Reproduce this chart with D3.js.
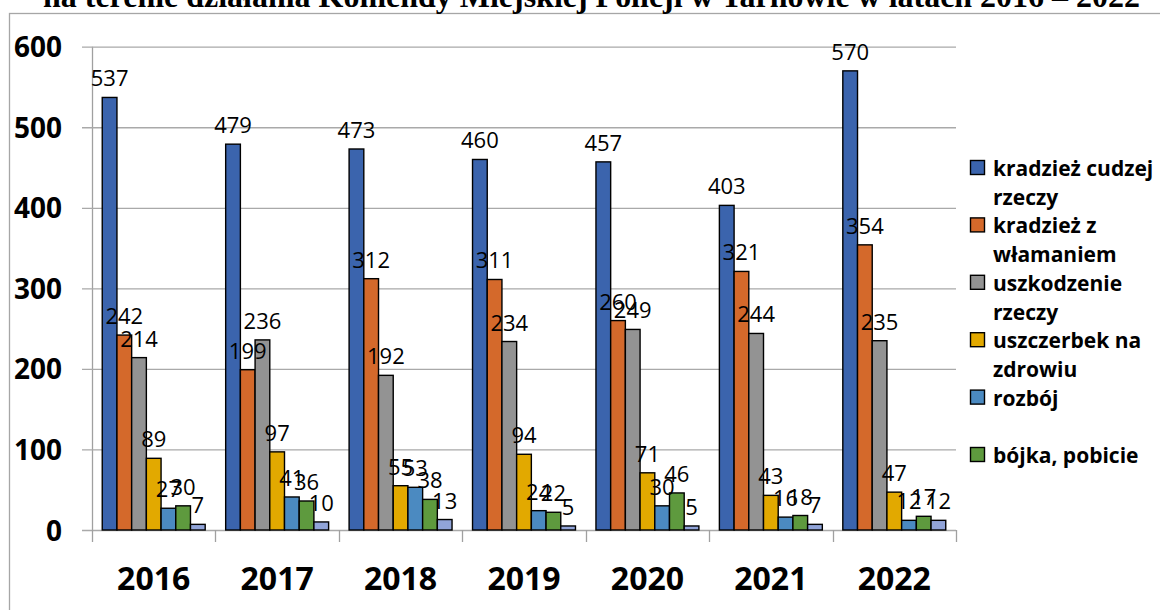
<!DOCTYPE html>
<html>
<head>
<meta charset="utf-8">
<script src="https://cdn.jsdelivr.net/npm/d3@7"></script>
<style>
  html, body { margin: 0; padding: 0; background: #fff; }
  svg { display: block; }
</style>
</head>
<body>
<svg id="chart" width="1160" height="610"></svg>
<script>
// ---------- data ----------
const titleText = "na terenie działania Komendy Miejskiej Policji w Tarnowie w latach 2016 – 2022";
const years = ["2016", "2017", "2018", "2019", "2020", "2021", "2022"];
const seriesNames = [
  "kradzież cudzej rzeczy",
  "kradzież z włamaniem",
  "uszkodzenie rzeczy",
  "uszczerbek na zdrowiu",
  "rozbój",
  "bójka, pobicie",
  "inne"
];
const kradziezCudzejRzeczy = [537, 479, 473, 460, 457, 403, 570];
const kradziezZWlamaniem   = [242, 199, 312, 311, 260, 321, 354];
const uszkodzenieRzeczy    = [214, 236, 192, 234, 249, 244, 235];
const uszczerbekNaZdrowiu  = [89, 97, 55, 94, 71, 43, 47];
const rozboj               = [27, 41, 53, 24, 30, 16, 12];
const bojkaPobicie         = [30, 36, 38, 22, 46, 18, 17];
const inne                 = [7, 10, 13, 5, 5, 7, 12];
const yTicks = [0, 100, 200, 300, 400, 500, 600];
const colors = ["#3B64AD", "#D4692B", "#939393", "#E2A900", "#4B8AC1", "#5E9A3E", "#91A4D9"];
const legendVisibleCount = 6; // the 7th legend entry is cut off in the original

const seriesValues = [kradziezCudzejRzeczy, kradziezZWlamaniem, uszkodzenieRzeczy,
  uszczerbekNaZdrowiu, rozboj, bojkaPobicie, inne];

// ---------- layout ----------
const svg = d3.select("#chart");
const plot = { left: 92, right: 956, top: 46.7, bottom: 530 };

// outer chart border
svg.append("rect")
  .attr("x", 9.5).attr("y", 13.5)
  .attr("width", 1200).attr("height", 700)
  .attr("fill", "none").attr("stroke", "#a6a6a6").attr("stroke-width", 1.3);

// title (mostly clipped at top)
const title = svg.append("text")
  .attr("x", 43).attr("y", 7)
  .attr("font-family", "'Liberation Serif', 'Times New Roman', serif")
  .attr("font-weight", "bold")
  .attr("font-size", 100)
  .attr("fill", "#000")
  .text(titleText);
const tw = title.node().getComputedTextLength();
title.attr("font-size", 100 * 1097 / tw);

const x0 = d3.scaleBand().domain(years).range([plot.left, plot.right]).padding(0);
const x1 = d3.scaleBand().domain(d3.range(seriesNames.length))
  .range([x0.bandwidth() * 0.083, x0.bandwidth() * 0.917]).padding(0);
const y = d3.scaleLinear().domain([0, 600]).range([plot.bottom, plot.top]);

// gridlines + y axis
const yAxis = d3.axisLeft(y).tickValues(yTicks)
  .tickSize(-(plot.right - plot.left)).tickPadding(30).tickFormat(d3.format("d"));
const gy = svg.append("g").attr("transform", `translate(${plot.left},0)`).call(yAxis);
gy.select(".domain").attr("stroke", "#a0a0a0").attr("stroke-width", 1.3)
  .attr("d", `M0.5,${plot.top}V${plot.bottom}`);
gy.selectAll(".tick line").attr("stroke", "#a9a9a9").attr("stroke-width", 1.3)
  .attr("x1", -10);
gy.selectAll(".tick text")
  .attr("font-family", "'Open Sans', sans-serif")
  .attr("font-weight", "bold").attr("font-size", 28).attr("fill", "#000")
  .attr("x", -30).attr("dy", "0.36em");

// x axis
const xAxis = d3.axisBottom(x0).tickSize(0).tickPadding(0);
const gx = svg.append("g").attr("transform", `translate(0,${plot.bottom})`).call(xAxis);
gx.select(".domain").remove();
gx.selectAll(".tick text")
  .attr("font-family", "'Open Sans', sans-serif")
  .attr("font-weight", "bold").attr("font-size", 32).attr("fill", "#000")
  .attr("y", 60).attr("dy", 0);
// category separators
const sepPositions = years.map(d => x0(d)).concat([plot.right]);
svg.append("g").selectAll("line").data(sepPositions).join("line")
  .attr("x1", d => Math.round(d) + 0.5).attr("x2", d => Math.round(d) + 0.5)
  .attr("y1", plot.bottom).attr("y2", plot.bottom + 12)
  .attr("stroke", "#a0a0a0").attr("stroke-width", 1.3);

// bars
const groups = svg.append("g").selectAll("g").data(years).join("g")
  .attr("transform", d => `translate(${x0(d)},0)`);
groups.selectAll("rect")
  .data((yr, i) => seriesValues.map((arr, s) => ({ s, v: arr[i] })))
  .join("rect")
  .attr("x", d => x1(d.s))
  .attr("width", x1.bandwidth())
  .attr("y", d => y(d.v))
  .attr("height", d => y(0) - y(d.v))
  .attr("fill", d => colors[d.s])
  .attr("stroke", "#000").attr("stroke-width", 1.4);

// value labels
groups.selectAll("text.val")
  .data((yr, i) => seriesValues.map((arr, s) => ({ s, v: arr[i] })))
  .join("text").attr("class", "val")
  .attr("x", d => x1(d.s) + x1.bandwidth() / 2)
  .attr("y", d => y(d.v) - 11)
  .attr("text-anchor", "middle")
  .attr("font-family", "'Open Sans', sans-serif")
  .attr("font-size", 22).attr("fill", "#000")
  .text(d => d.v);

// legend
const lg = svg.append("g");
const lineH = 28.7, firstBase = 176, maxW = 172;
seriesNames.slice(0, legendVisibleCount).forEach((name, i) => {
  const base = firstBase + i * 2 * lineH;
  lg.append("rect")
    .attr("x", 970.5).attr("y", base - 15.5)
    .attr("width", 14).attr("height", 14)
    .attr("fill", colors[i]).attr("stroke", "#000").attr("stroke-width", 1.4);
  const words = name.split(" ");
  const lines = [];
  let cur = "";
  const probe = lg.append("text")
    .attr("font-family", "'Open Sans', sans-serif")
    .attr("font-weight", "bold").attr("font-size", 21);
  words.forEach(w => {
    const test = cur ? cur + " " + w : w;
    probe.text(test);
    if (probe.node().getComputedTextLength() > maxW && cur) {
      lines.push(cur); cur = w;
    } else cur = test;
  });
  lines.push(cur);
  probe.remove();
  lines.forEach((ln, k) => {
    lg.append("text")
      .attr("x", 993).attr("y", base + k * lineH)
      .attr("font-family", "'Open Sans', sans-serif")
      .attr("font-weight", "bold").attr("font-size", 21).attr("fill", "#000")
      .text(ln);
  });
});
</script>
</body>
</html>
